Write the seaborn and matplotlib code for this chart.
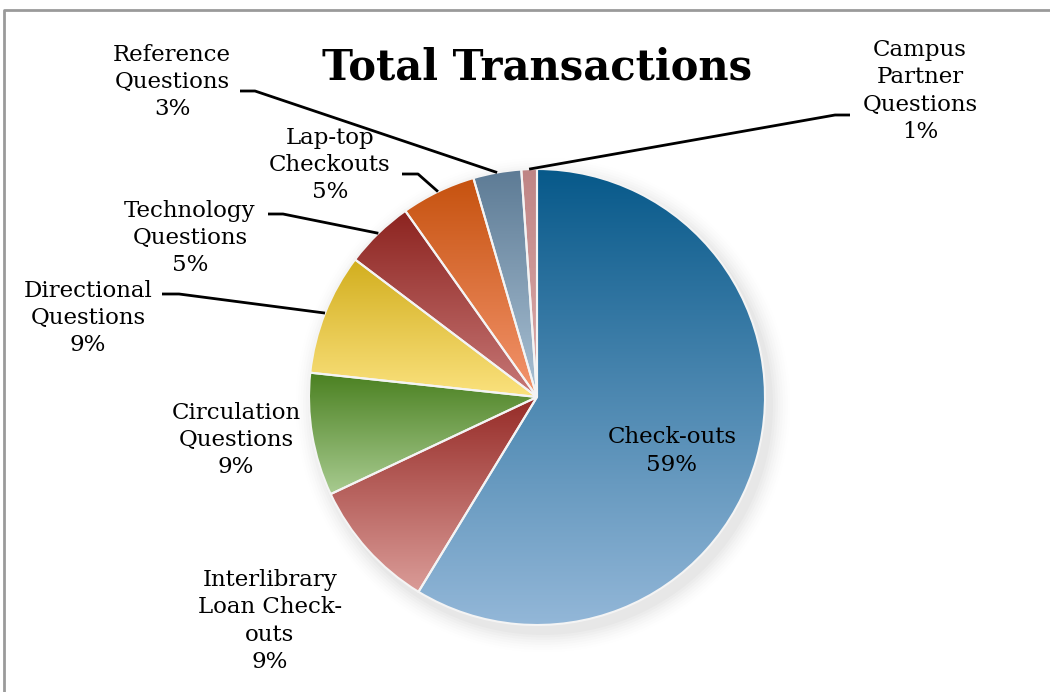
import numpy as np
import matplotlib
matplotlib.use("Agg")
import matplotlib.pyplot as plt
from matplotlib.colors import LinearSegmentedColormap
import seaborn as sns

# Data (shares of total transactions, %)
categories = ["Check-outs", "Interlibrary\nLoan Check-\nouts", "Circulation\nQuestions",
              "Directional\nQuestions", "Technology\nQuestions", "Lap-top\nCheckouts",
              "Reference\nQuestions", "Campus\nPartner\nQuestions"]
shares = [58.7, 9.3, 8.7, 8.6, 4.9, 5.3, 3.4, 1.1]

# gradient colours for each slice (top -> bottom)
top_colors = ["#07598A", "#962B27", "#4A8020", "#D2AE1E", "#8C231F", "#C6520F", "#5D7B95", "#BF8585"]
bottom_colors = ["#93B7D8", "#DA9C98", "#A8CB90", "#FBE27E", "#C77877", "#F4956E", "#AAC1D4", "#DDAAAA"]

W, H = 1050, 692
sns.set_theme(style="white")
plt.rcParams['font.family'] = ['DejaVu Serif']

fig = plt.figure(figsize=(10.5, 6.92), dpi=100)
ax = fig.add_axes([0, 0, 1, 1])

def py(y):
    # pixel-from-top -> data y
    return H - y

cx, cy, R = 537, py(397), 228

# soft shadow
for i, a in enumerate(np.linspace(0.018, 0.004, 8)):
    sh = plt.Circle((cx + 6, cy - 8), R + 2 + i * 2.5, color="black", alpha=a, lw=0, zorder=0)
    ax.add_patch(sh)

wedges, _ = ax.pie(shares, startangle=90, counterclock=False, center=(cx, cy), radius=R,
                   colors=top_colors, wedgeprops=dict(edgecolor="#F4F4F4", linewidth=1.5))

for w, c0, c1 in zip(wedges, top_colors, bottom_colors):
    t = np.radians(np.linspace(w.theta1, w.theta2, 100))
    xs = np.concatenate([[cx], cx + R * np.cos(t)])
    ys = np.concatenate([[cy], cy + R * np.sin(t)])
    cmap = LinearSegmentedColormap.from_list("g", [c1, c0])
    grad = np.linspace(0, 1, 256).reshape(-1, 1)
    im = ax.imshow(grad, cmap=cmap, origin="lower", aspect="auto",
                   extent=[xs.min(), xs.max(), ys.min(), ys.max()], zorder=1)
    im.set_clip_path(w)
    w.set_facecolor("none")
    w.set_zorder(2)

# labels
labels = [f"{c}\n{round(s)}%" for c, s in zip(categories, shares)]
label_pos = [(672, 451), (270, 621), (236, 440), (88, 318), (190, 238), (330, 165), (172, 82), (920, 91)]
# leader elbows: (start x, start y, elbow x) in pixels; None = no leader
leaders = [None, None, None, (162, 294, 179), (268, 214, 283), (402, 174, 418), (240, 91, 255), (850, 115, 835)]

for w, lab, (lx, ly), ld in zip(wedges, labels, label_pos, leaders):
    ax.text(lx, py(ly), lab, ha="center", va="center", fontsize=16.5, linespacing=1.32,
            color="black", zorder=5)
    if ld is not None:
        mid = np.radians((w.theta1 + w.theta2) / 2)
        ex, ey = cx + R * np.cos(mid), cy + R * np.sin(mid)
        ax.plot([ld[0], ld[2], ex], [py(ld[1]), py(ld[1]), ey], color="black", lw=2,
                solid_capstyle="butt", zorder=4)

ax.text(537, py(67), "Total Transactions", ha="center", va="center", fontsize=30,
        fontweight="bold", color="black", zorder=5)

# chart frame (cut off at right and bottom)
ax.plot([4, 4, W + 5], [-5, py(10), py(10)], color="#9A9A9A", lw=2, zorder=6)

ax.set_xlim(0, W)
ax.set_ylim(0, H)
ax.set_aspect("auto")
ax.axis("off")

fig.savefig("out.png", dpi=100)
